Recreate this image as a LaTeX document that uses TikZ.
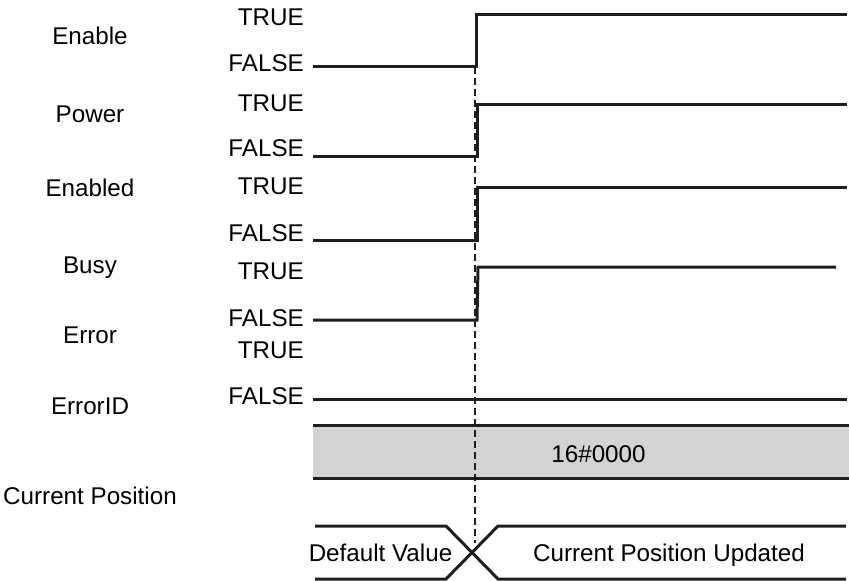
\documentclass[tikz,border=0pt]{standalone}
\usepackage{fontspec}
\setmainfont{Liberation Sans}
\definecolor{bandgray}{RGB}{210,211,213}
\definecolor{ink}{RGB}{30,30,30}
\begin{document}
\begin{tikzpicture}[x=1pt,y=-1pt,
  lbl/.style={font=\fontsize{24.2}{29}\selectfont, inner sep=0pt, text height=17.3pt, text depth=0pt, text=black},
  lvl/.style={lbl, anchor=east},
  sig/.style={line width=3pt, line join=miter, draw=ink},
  guide/.style={line width=1.3pt, dash pattern=on 7pt off 4pt, draw=ink}]
\useasboundingbox (0,0) rectangle (849,581);

% signal names
\node[lbl] (nEnable)  at (90,35.5) {Enable};
\node[lbl] (nPower)   at (90,114)  {Power};
\node[lbl] (nEnabled) at (90,187.5) {Enabled};
\node[lbl] (nBusy)    at (90,265)  {Busy};
\node[lbl] (nError)   at (90,335)  {Error};
\node[lbl] (nErrorID) at (90,406)  {ErrorID};
\node[lbl] (nCurPos)  at (90,496)  {Current Position};

% level labels
\node[lvl] (t1) at (304,17)  {TRUE};
\node[lvl] (f1) at (304,62.5) {FALSE};
\node[lvl] (t2) at (304,103) {TRUE};
\node[lvl] (f2) at (304,148) {FALSE};
\node[lvl] (t3) at (304,186) {TRUE};
\node[lvl] (f3) at (304,233) {FALSE};
\node[lvl] (t4) at (304,271) {TRUE};
\node[lvl] (f4) at (304,318) {FALSE};
\node[lvl] (t5) at (304,349.5) {TRUE};
\node[lvl] (f5) at (304,396) {FALSE};

% ErrorID band
\fill[bandgray] (313,425) rectangle (849,478);

% guide line
\coordinate (gTop) at (475,67);
\coordinate (gBot) at (475,543);
\draw[guide] (gTop) -- (gBot);

% signals
\draw[sig] (313,66.7) -- (476.5,66.7) -- (476.5,14) -- (846.7,14);
\draw[sig] (313,156) -- (477,156) -- (477,104) -- (846.7,104);
\draw[sig] (313,240.5) -- (477,240.5) -- (477,187) -- (846.7,187);
\draw[sig] (313,320) -- (477,320) -- (478,267) -- (836,267);
\draw[sig] (313,399) -- (847,399);

\draw[sig] (313,425) -- (849,425);
\draw[sig] (313,478) -- (849,478);
\node[lbl] (code) at (598.5,454) {16\#0000};

% Current Position bus
\draw[sig] (315,526) -- (446,526) -- (498,579) -- (846,579);
\draw[sig] (315,579) -- (446,579) -- (498,526) -- (846,526);
\node[lbl] (dv) at (380.5,552.5) {Default Value};
\node[lbl] (cpu) at (669,552.5) {Current Position Updated};
\end{tikzpicture}
\end{document}
